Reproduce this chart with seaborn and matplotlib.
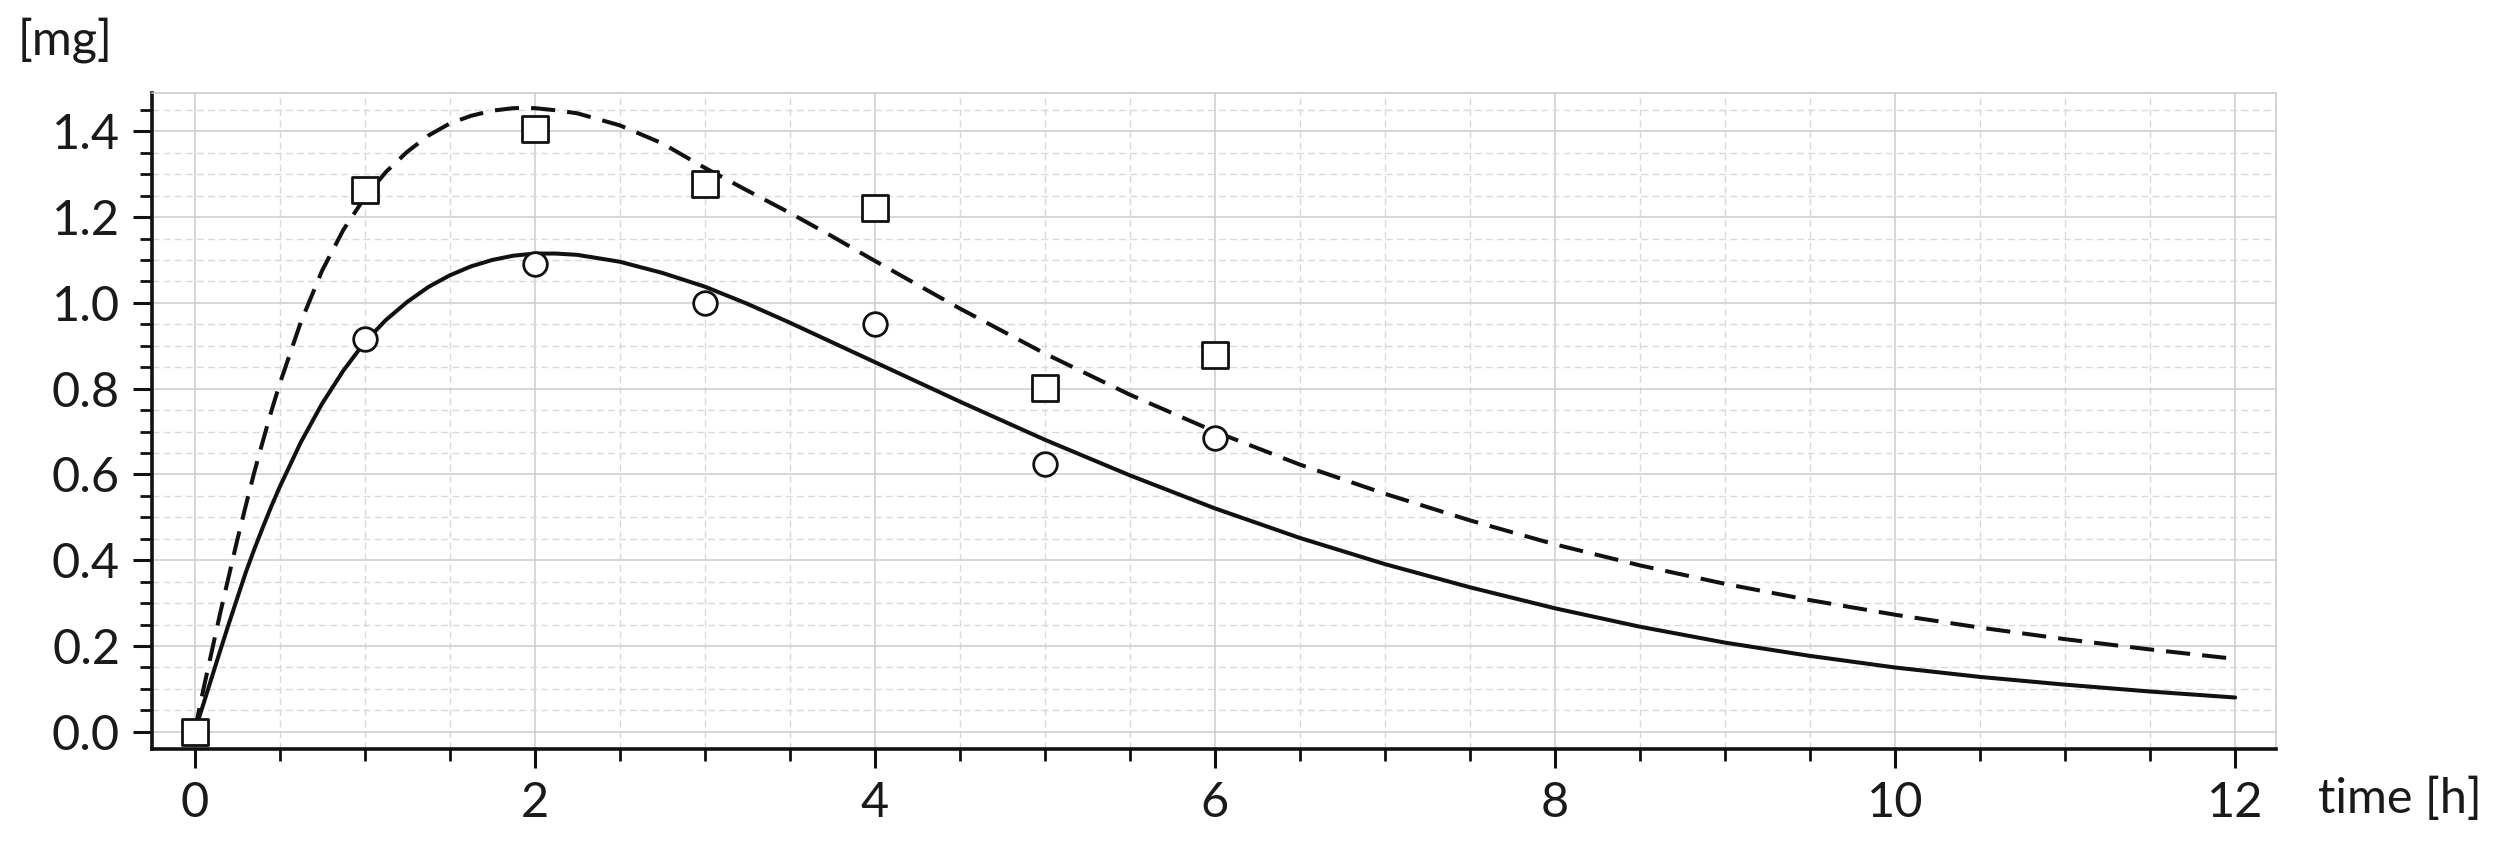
import numpy as np
import pandas as pd
import matplotlib
matplotlib.use("Agg")
import matplotlib.pyplot as plt
import seaborn as sns
from matplotlib.ticker import MultipleLocator, FormatStrFormatter

# Fitted curves
time_fit = [0.0, 0.05, 0.1, 0.15, 0.2, 0.25, 0.3, 0.35, 0.4, 0.45, 0.5, 0.625,
            0.75, 0.875, 1.0, 1.125, 1.25, 1.375, 1.5, 1.625, 1.75, 1.875, 2.0,
            2.125, 2.25, 2.5, 2.75, 3.0, 3.25, 3.5, 3.75, 4.0, 4.5, 5.0, 5.5,
            6.0, 6.5, 7.0, 7.5, 8.0, 8.5, 9.0, 9.5, 10.0, 10.5, 11.0, 11.5, 12.0]
fit_solid = [0.0, 0.062, 0.125, 0.188, 0.25, 0.31, 0.37, 0.424, 0.475, 0.524,
             0.57, 0.675, 0.765, 0.842, 0.908, 0.96, 1.002, 1.037, 1.064, 1.085,
             1.1, 1.11, 1.115, 1.115, 1.112, 1.096, 1.07, 1.038, 0.998, 0.954,
             0.908, 0.862, 0.77, 0.681, 0.598, 0.521, 0.452, 0.391, 0.337, 0.288,
             0.245, 0.208, 0.177, 0.15, 0.128, 0.11, 0.094, 0.08]
fit_dashed = [0.0, 0.095, 0.185, 0.275, 0.36, 0.445, 0.525, 0.603, 0.675, 0.745,
              0.81, 0.955, 1.075, 1.17, 1.245, 1.305, 1.352, 1.39, 1.418, 1.436,
              1.448, 1.454, 1.454, 1.449, 1.442, 1.414, 1.372, 1.315, 1.262, 1.21,
              1.155, 1.098, 0.987, 0.882, 0.786, 0.70, 0.623, 0.555, 0.493, 0.437,
              0.388, 0.345, 0.307, 0.273, 0.243, 0.216, 0.192, 0.17]

# Measured points
time_obs = [0, 1, 2, 3, 4, 5, 6]
obs_circle = [0.0, 0.915, 1.09, 1.0, 0.951, 0.625, 0.685]
obs_square = [0.0, 1.264, 1.405, 1.278, 1.222, 0.802, 0.878]

sns.set_theme(style="white")
plt.rcParams['font.family'] = ['Lato', 'DejaVu Sans']
ink = '#111111'
fs = 35

fig = plt.figure(figsize=(25, 8.52), dpi=100)
ax = fig.add_axes([0.0608, 0.1209, 0.8496, 0.7703])

df_fit = pd.DataFrame({'t': time_fit, 'solid': fit_solid, 'dashed': fit_dashed})
sns.lineplot(data=df_fit, x='t', y='solid', ax=ax, color=ink, linewidth=2.9, zorder=3)
sns.lineplot(data=df_fit, x='t', y='dashed', ax=ax, color=ink, linewidth=2.9,
             linestyle=(0, (6, 3)), zorder=3)

sns.scatterplot(x=time_obs, y=obs_circle, ax=ax, marker='o', s=17 ** 2,
                color='white', edgecolor=ink, linewidth=2.0, zorder=4)
sns.scatterplot(x=time_obs, y=obs_square, ax=ax, marker='s', s=19 ** 2,
                color='white', edgecolor=ink, linewidth=2.0, zorder=5)

ax.set_xlim(-0.25, 12.24)
ax.set_ylim(-0.04, 1.49)
ax.set_xlabel('')
ax.set_ylabel('')

ax.xaxis.set_major_locator(MultipleLocator(2))
ax.xaxis.set_minor_locator(MultipleLocator(0.5))
ax.yaxis.set_major_locator(MultipleLocator(0.2))
ax.yaxis.set_minor_locator(MultipleLocator(0.05))
ax.xaxis.set_major_formatter(FormatStrFormatter('%d'))
ax.yaxis.set_major_formatter(FormatStrFormatter('%.1f'))

ax.grid(which='major', color='#cccccc', linewidth=1.1, linestyle='-')
ax.grid(which='minor', color='#d9d9d9', linewidth=1.0, linestyle=(0, (5, 3)))
ax.set_axisbelow(True)

for side in ['left', 'bottom']:
    ax.spines[side].set_color(ink)
    ax.spines[side].set_linewidth(2.6)
for side in ['top', 'right']:
    ax.spines[side].set_color('#c8c8c8')
    ax.spines[side].set_linewidth(1.1)

ax.tick_params(which='major', direction='out', length=14, width=2.2, color=ink,
               labelsize=fs, labelcolor='#1a1a1a', pad=9, left=True, bottom=True)
ax.tick_params(which='minor', direction='out', length=8.5, width=2.0, color=ink,
               left=True, bottom=True)

fig.text(0.0072, 0.953, '[mg]', fontsize=fs, color='#1a1a1a', ha='left', va='center')
fig.text(0.927, 0.062, 'time [h]', fontsize=fs, color='#1a1a1a', ha='left', va='center')

fig.savefig('out.png', dpi=100)
